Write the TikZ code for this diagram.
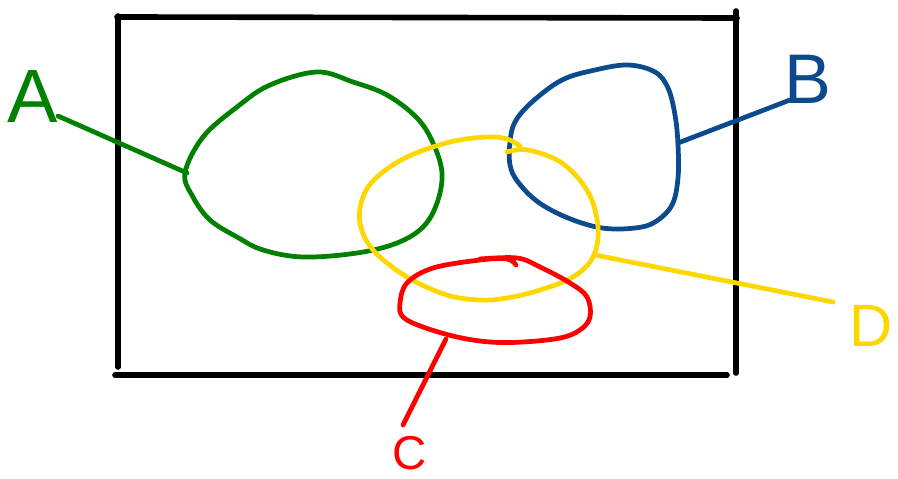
\documentclass[tikz,border=0pt]{standalone}
\usepackage{fontspec}
\setmainfont{Liberation Sans}
\definecolor{setgreen}{HTML}{008000}
\definecolor{setblue}{HTML}{0B4A8C}
\definecolor{setyellow}{HTML}{FFD700}
\definecolor{setred}{HTML}{FF0000}
\tikzset{
  frame/.style={line width=3.2pt,line cap=round,black},
  blob/.style={line width=2.7pt,line cap=round,line join=round},
  letter/.style={inner sep=0pt,font=#1}
}
\begin{document}
\begin{tikzpicture}[x=0.02cm,y=-0.02cm]
\useasboundingbox (0,0) rectangle (898,479);
% universe box, drawn as four loose strokes
\draw[frame] (117,17) -- (737,18);
\draw[frame] (118,16) -- (118,367);
\draw[frame] (736,11) -- (736,373);
\draw[frame] (115,375) -- (727,375);
% set A (green)
\draw[blob,setgreen] plot[smooth cycle,tension=0.6] coordinates {
  (185,173) (203,137) (237,107) (270,85) (317,72) (353,82) (387,95)
  (417,118) (433,143) (442,173) (437,203) (423,227) (397,243) (357,253)
  (303,257) (263,250) (237,237) (210,220) (193,197)};
% set B (blue)
\draw[blob,setblue] plot[smooth cycle,tension=0.6] coordinates {
  (510,142) (515,122) (532,102) (562,80) (595,70) (628,65) (655,72)
  (668,88) (675,115) (678,145) (678,178) (672,205) (655,222) (635,228)
  (602,228) (568,218) (538,202) (518,182) (510,165)};
% set D (yellow), with the small overlap at the top
\draw[blob,setyellow] plot[smooth,tension=0.6] coordinates {
  (507,152) (528,150) (562,163) (588,192) (598,227) (593,257) (573,277)
  (540,290) (507,298) (480,300) (447,295) (407,277) (373,250) (360,223)
  (363,197) (377,177) (407,157) (450,142) (487,137) (507,139) (520,146)};
% set C (red), with the small overlap at the top
\draw[blob,setred] plot[smooth,tension=0.6] coordinates {
  (480,259) (517,258) (540,267) (570,283) (587,297) (590,317) (580,330)
  (560,338) (523,342) (490,342) (457,337) (423,327) (403,317) (400,303)
  (407,283) (433,268) (480,260) (507,259) (516,265)};
% labels
\node[letter={\fontsize{43}{43}\selectfont},setgreen] (labA) at (33,97) {A};
\node[letter={\fontsize{40}{40}\selectfont},setblue] (labB) at (808,79) {B};
\node[letter={\fontsize{27}{27}\selectfont},setred] (labC) at (410,453) {C};
\node[letter={\fontsize{34}{34}\selectfont},setyellow] (labD) at (871,326) {D};
% attachment points on the sets
\coordinate (onA) at (187,173);
\coordinate (onB) at (678,143);
\coordinate (onC) at (446,339);
\coordinate (onD) at (595,255);
\coordinate (endA) at (58,116);
\coordinate (endB) at (790,100);
\coordinate (endC) at (403,425);
\coordinate (endD) at (833,302);
% leader lines
\draw[blob,setgreen] (endA) -- (onA);
\draw[blob,setblue] (onB) -- (endB);
\draw[blob,setred] (onC) -- (endC);
\draw[blob,setyellow] (onD) -- (endD);
\end{tikzpicture}
\end{document}
